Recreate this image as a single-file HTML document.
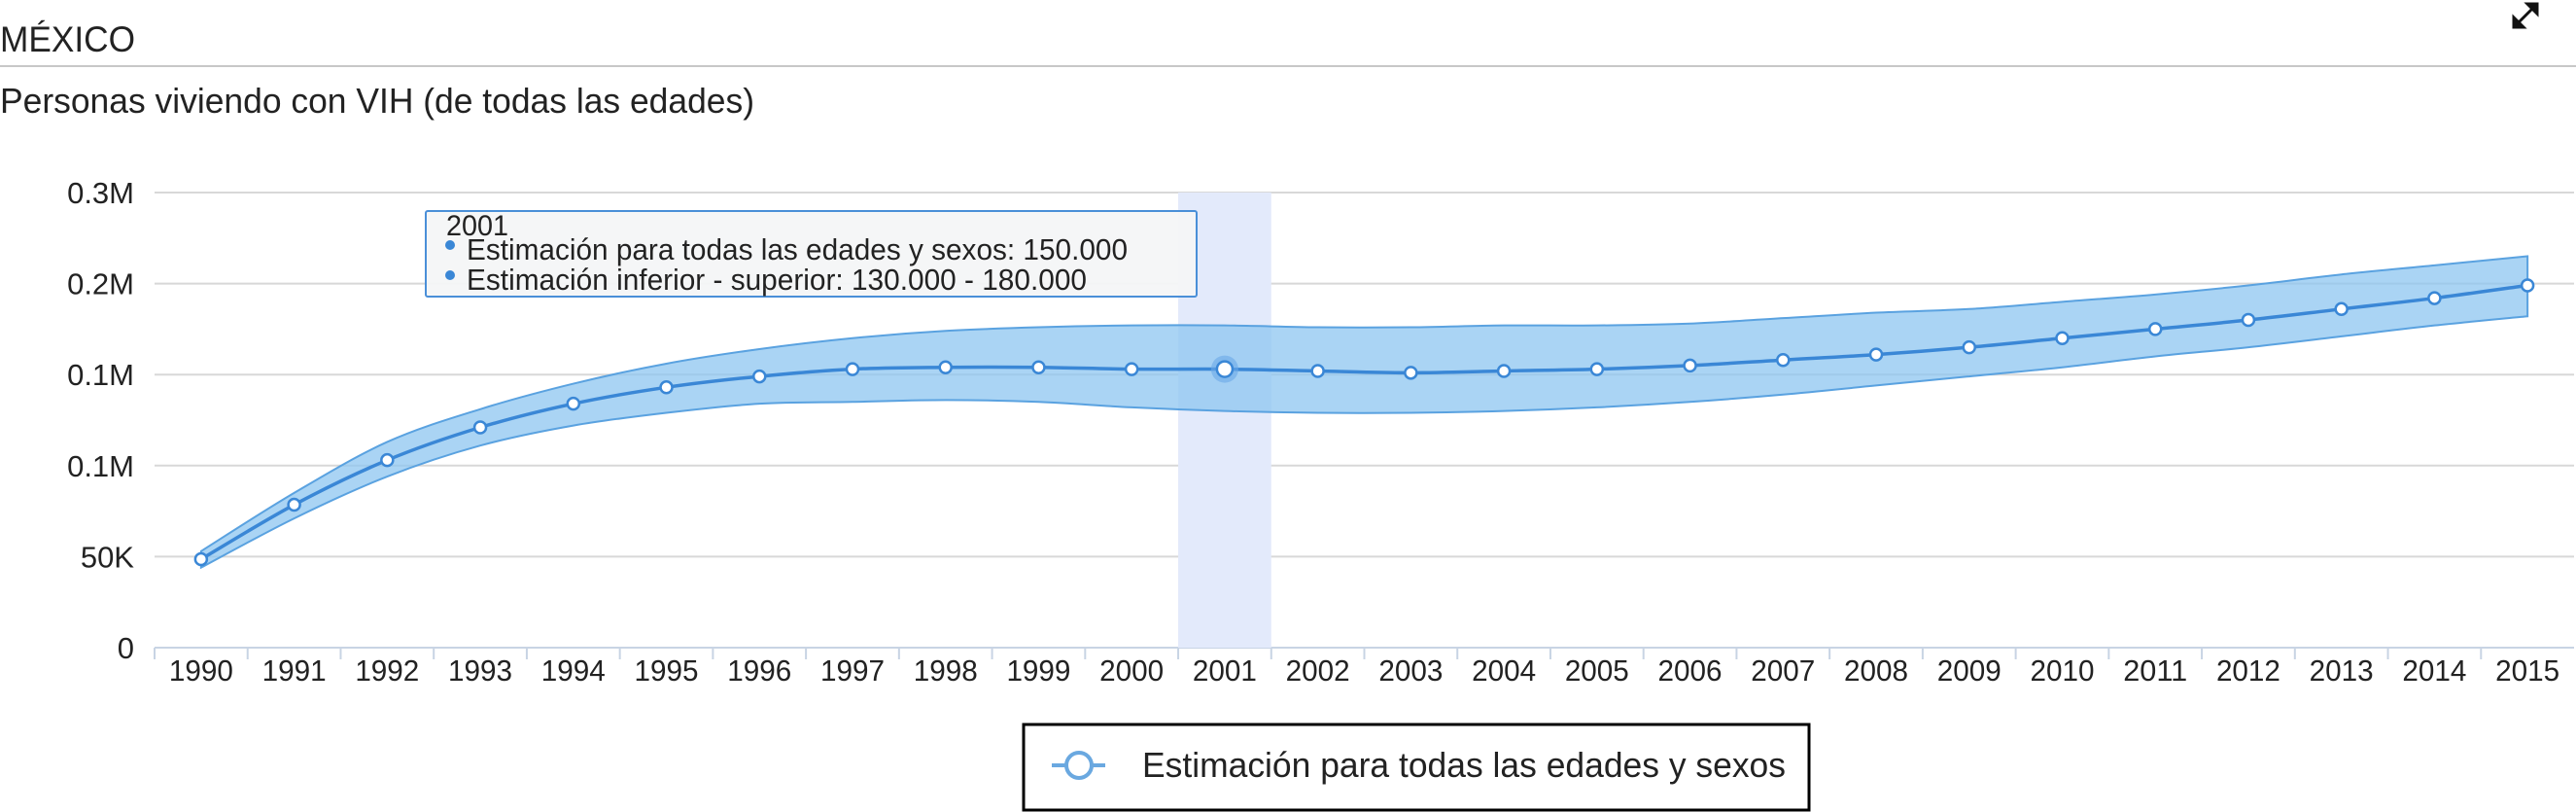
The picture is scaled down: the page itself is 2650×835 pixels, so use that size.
<!DOCTYPE html>
<html><head><meta charset="utf-8"><style>
html,body{margin:0;padding:0;background:#fff;width:2650px;height:835px;overflow:hidden}
svg{display:block;font-family:"Liberation Sans",Arial,sans-serif}
</style></head><body>
<svg id="chart" width="2650" height="835" viewBox="0 0 2650 835">
<text x="0" y="53" font-size="37" fill="#222" textLength="139" lengthAdjust="spacingAndGlyphs">MÉXICO</text>
<line x1="0" y1="68" x2="2650" y2="68" stroke="#c8c8c8" stroke-width="2"/>
<text x="0" y="116" font-size="36" fill="#222" textLength="776" lengthAdjust="spacingAndGlyphs">Personas viviendo con VIH (de todas las edades)</text>
<g stroke="#111" stroke-width="3" fill="#111">
<line x1="2590" y1="24" x2="2606" y2="8"/><polygon points="2586,28 2586,18 2596,28"/><polygon points="2610,4 2610,14 2600,4"/>
</g>
<g id="grid"></g><g id="hl"></g><g id="band"></g><g id="series"></g><g id="axes"></g>
<g>
<rect x="438" y="217" width="793" height="88" fill="#f4f5f7" fill-opacity="0.95" stroke="#4a8fd8" stroke-width="2" rx="2"/>
<text x="459" y="242" font-size="30" fill="#222" textLength="64" lengthAdjust="spacingAndGlyphs">2001</text>
<circle cx="463" cy="252" r="5" fill="#3a87d6"/>
<text x="480" y="267" font-size="31" fill="#222" textLength="680" lengthAdjust="spacingAndGlyphs">Estimación para todas las edades y sexos: 150.000</text>
<circle cx="463" cy="283" r="5" fill="#3a87d6"/>
<text x="480" y="298" font-size="31" fill="#222" textLength="638" lengthAdjust="spacingAndGlyphs">Estimación inferior - superior: 130.000 - 180.000</text>
</g>
<g>
<rect x="1053" y="745" width="808" height="88" fill="#fff" stroke="#000" stroke-width="3"/>
<line x1="1082" y1="787" x2="1137" y2="787" stroke="#6aa8e0" stroke-width="4"/>
<circle cx="1110" cy="787" r="13" fill="#fff" stroke="#6aa8e0" stroke-width="4"/>
<text x="1175" y="799" font-size="36" fill="#222" textLength="662" lengthAdjust="spacingAndGlyphs">Estimación para todas las edades y sexos</text>
</g>
</svg>
<script>
const years=[1990,1991,1992,1993,1994,1995,1996,1997,1998,1999,2000,2001,2002,2003,2004,2005,2006,2007,2008,2009,2010,2011,2012,2013,2014,2015];
const estimate=[48600,78500,103000,121000,134000,143000,149000,153000,154000,154000,153000,153000,152000,151000,152000,153000,155000,158000,161000,165000,170000,175000,180000,186000,192000,199000];
const upper=[53000,85000,113000,131000,145000,156000,164000,170000,174000,176000,177000,177000,176000,176000,177000,177000,178000,181000,184000,186000,190000,194000,199000,205000,210000,215000];
const lower=[44000,71000,94000,111000,122000,129000,134000,135000,136000,135000,132000,130000,129000,129000,130000,132000,135000,139000,144000,149000,154000,160000,165000,171000,177000,182000];
const yTicks=[0,50000,100000,150000,200000,250000];
const yTickLabels=["0","50K","0.1M","0.1M","0.2M","0.3M"];
const highlightYear=2001;

const NS="http://www.w3.org/2000/svg";
const X0=159,X1=2648,Y0=666,YT=198,YMAX=250000;
const bw=(X1-X0)/years.length;
const xBand=i=>X0+i*bw, xc=i=>X0+(i+0.5)*bw;
const y=v=>Y0-(v/YMAX)*(Y0-YT);
function mk(tag,attrs,parent){const e=document.createElementNS(NS,tag);for(const k in attrs)e.setAttribute(k,attrs[k]);parent.appendChild(e);return e;}
function smooth(pts,start){
  let s=(start?'M':'L')+pts[0][0]+','+pts[0][1];
  for(let i=0;i<pts.length-1;i++){
    const p0=pts[i-1]||pts[i],p1=pts[i],p2=pts[i+1],p3=pts[i+2]||p2;
    const c1=[p1[0]+(p2[0]-p0[0])/6,p1[1]+(p2[1]-p0[1])/6];
    const c2=[p2[0]-(p3[0]-p1[0])/6,p2[1]-(p3[1]-p1[1])/6];
    s+='C'+c1+' '+c2+' '+p2;
  }
  return s;
}
const grid=document.getElementById('grid'),axes=document.getElementById('axes');
yTicks.forEach((t,i)=>{
  const l=mk('line',{x1:X0,x2:X1,y1:y(t),y2:y(t),stroke:i===0?'#c8d4e4':'#d8d8d8','stroke-width':2},grid);
  
  
  const tx=mk('text',{x:138,y:y(t)+11,'font-size':31,'text-anchor':'end',fill:'#222'},axes);
  tx.textContent=yTickLabels[i];
  
  
});
years.forEach((yr,i)=>{
  const tk=mk('line',{x1:xBand(i),x2:xBand(i),y1:Y0,y2:Y0+12,stroke:'#c8d4e4','stroke-width':2},axes);
  
  
  const tx=mk('text',{x:xc(i),y:Y0+34,'font-size':31,'text-anchor':'middle',fill:'#222',textLength:66,lengthAdjust:'spacingAndGlyphs'},axes);
  tx.textContent=yr;
  
  
});
const hi=years.indexOf(highlightYear);
const hr=mk('rect',{x:xBand(hi),y:YT,width:bw,height:Y0-YT,fill:'#e3eafb'},document.getElementById('hl'));


const up=years.map((_,i)=>[xc(i),y(upper[i])]);
const lo=years.map((_,i)=>[xc(i),y(lower[i])]).reverse();
const band=mk('path',{d:smooth(up,true)+smooth(lo,false)+'Z',fill:'#8ec6f0','fill-opacity':0.75,stroke:'#5aa2e0','stroke-width':2},document.getElementById('band'));


const s=document.getElementById('series');
const line=mk('path',{d:smooth(years.map((_,i)=>[xc(i),y(estimate[i])]),true),fill:'none',stroke:'#3a87d6','stroke-width':3.5},s);


years.forEach((yr,i)=>{
  if(i===hi){const h=mk('circle',{cx:xc(i),cy:y(estimate[i]),r:14,fill:'#6aa8e8','fill-opacity':0.6},s);
    
    }
  const c=mk('circle',{cx:xc(i),cy:y(estimate[i]),r:i===hi?8:6,fill:'#fff',stroke:'#3a87d6','stroke-width':2.5},s);
  
  
});
</script>
</body></html>
